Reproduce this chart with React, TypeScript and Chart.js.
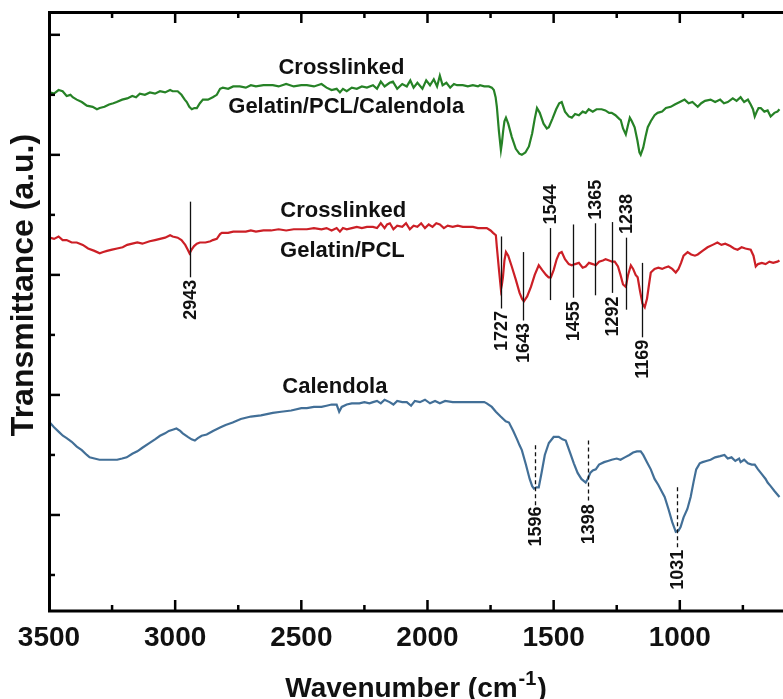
import { useEffect, useRef } from 'react';
import { Chart, registerables } from 'chart.js';

Chart.register(...registerables);

// ---- Data (wavenumber in cm^-1, transmittance in arbitrary offset units) ----
const greenWn = [3497, 3480, 3462, 3446, 3430, 3415, 3406, 3390, 3370, 3350, 3327, 3310, 3299, 3280, 3262, 3245, 3232, 3210, 3190, 3170, 3155, 3140, 3120, 3100, 3080, 3060, 3040, 3020, 3010, 2990, 2975, 2962, 2954, 2944, 2934, 2924, 2914, 2902, 2890, 2870, 2851, 2835, 2822, 2811, 2790, 2770, 2744, 2720, 2700, 2680, 2650, 2613, 2590, 2560, 2530, 2500, 2478, 2450, 2420, 2400, 2380, 2360, 2347, 2335, 2320, 2300, 2280, 2260, 2240, 2216, 2200, 2185, 2170, 2150, 2137, 2120, 2100, 2082, 2068, 2055, 2040, 2020, 2005, 1990, 1975, 1962, 1951, 1940, 1925, 1910, 1895, 1883, 1860, 1840, 1820, 1800, 1792, 1775, 1757, 1745, 1737, 1730, 1725, 1717, 1709, 1705, 1700, 1695, 1689, 1680, 1666, 1650, 1636, 1626, 1612, 1598, 1585, 1575, 1566, 1555, 1540, 1527, 1519, 1505, 1490, 1478, 1468, 1455, 1440, 1428, 1415, 1400, 1385, 1373, 1361, 1345, 1330, 1310, 1295, 1280, 1270, 1255, 1240, 1234, 1225, 1214, 1205, 1198, 1190, 1179, 1168, 1160, 1155, 1145, 1135, 1127, 1115, 1100, 1088, 1070, 1055, 1036, 1020, 1000, 981, 965, 950, 929, 915, 900, 878, 860, 840, 825, 810, 790, 775, 759, 745, 730, 719, 710, 703, 695, 688, 679, 665, 652, 640, 625, 613, 605];
const greenT = [352, 351, 354, 353, 349, 350, 348, 346, 344, 341, 340, 338, 339, 340, 342, 343, 344, 346, 347, 349, 348, 351, 350, 352, 351, 353, 352, 354, 353, 353, 350, 346, 344, 340, 338, 339, 339, 343, 346, 346, 348, 350, 355, 356, 355, 357, 357, 356, 358, 357, 358, 358, 357, 359, 357, 358, 358, 357, 359, 356, 354, 355, 352, 355, 353, 356, 355, 357, 356, 358, 355, 361, 357, 360, 361, 355, 359, 357, 362, 356, 360, 355, 362, 358, 363, 357, 366, 358, 360, 356, 359, 358, 358, 357, 358, 357, 358, 357, 357, 356, 354, 348, 340, 320, 304, 310, 320, 328, 331, 326, 315, 305, 301, 300, 302, 307, 318, 330, 339, 335, 326, 322, 323, 330, 338, 343, 344, 336, 332, 331, 334, 333, 336, 335, 338, 336, 338, 338, 337, 335, 335, 333, 330, 329, 322, 317, 325, 331, 328, 323, 312, 302, 300, 306, 316, 323, 328, 333, 335, 336, 339, 340, 342, 344, 346, 343, 344, 340, 343, 345, 346, 344, 346, 343, 344, 347, 345, 348, 344, 346, 342, 338, 332, 336, 339, 339, 336, 337, 332, 335, 336, 338];

const redWn = [3497, 3480, 3462, 3446, 3430, 3410, 3390, 3366, 3345, 3320, 3299, 3285, 3270, 3250, 3230, 3208, 3190, 3170, 3150, 3130, 3101, 3080, 3060, 3040, 3020, 3010, 2990, 2975, 2960, 2950, 2943, 2935, 2925, 2914, 2902, 2880, 2860, 2851, 2835, 2822, 2815, 2790, 2770, 2744, 2720, 2700, 2680, 2650, 2620, 2590, 2560, 2530, 2500, 2478, 2450, 2420, 2400, 2380, 2360, 2347, 2335, 2320, 2300, 2280, 2260, 2240, 2216, 2200, 2185, 2170, 2160, 2149, 2135, 2120, 2100, 2085, 2070, 2055, 2040, 2025, 2010, 1995, 1980, 1965, 1951, 1935, 1920, 1900, 1880, 1860, 1840, 1820, 1800, 1780, 1765, 1750, 1740, 1729, 1725, 1717, 1709, 1705, 1701, 1695, 1689, 1680, 1666, 1650, 1635, 1625, 1618, 1605, 1590, 1575, 1559, 1545, 1530, 1520, 1511, 1500, 1488, 1478, 1468, 1455, 1440, 1428, 1415, 1400, 1385, 1373, 1360, 1345, 1333, 1320, 1305, 1294, 1280, 1268, 1258, 1245, 1235, 1225, 1214, 1205, 1194, 1185, 1175, 1167, 1158, 1148, 1139, 1130, 1122, 1115, 1100, 1085, 1070, 1060, 1045, 1030, 1016, 1005, 995, 985, 969, 955, 940, 929, 910, 890, 870, 851, 835, 820, 800, 785, 771, 755, 740, 719, 708, 699, 690, 675, 660, 645, 630, 613, 605];
const redT = [231, 230, 232, 229, 229, 227, 227, 225, 222, 220, 218, 219, 220, 221, 222, 223, 225, 226, 227, 226, 228, 229, 230, 231, 233, 232, 231, 229, 225, 221, 218, 221, 224, 226, 227, 227, 228, 229, 230, 234, 235, 235, 236, 236, 236, 237, 236, 237, 237, 238, 237, 238, 238, 238, 239, 238, 239, 237, 239, 236, 239, 238, 239, 240, 239, 240, 240, 239, 243, 239, 242, 243, 238, 241, 240, 243, 238, 241, 240, 243, 239, 242, 240, 243, 242, 239, 241, 240, 241, 240, 240, 240, 239, 239, 239, 237, 235, 233, 223, 205, 188, 192, 198, 212, 219, 216, 207, 196, 185, 180, 178, 182, 190, 200, 208, 204, 200, 198, 198, 204, 213, 218, 219, 213, 209, 208, 209, 210, 206, 207, 210, 209, 208, 211, 212, 213, 212, 211, 211, 207, 200, 192, 190, 200, 208, 205, 200, 198, 187, 176, 173, 180, 192, 202, 205, 206, 205, 206, 207, 205, 202, 205, 210, 216, 219, 217, 216, 217, 220, 223, 225, 227, 225, 226, 224, 222, 221, 223, 222, 221, 216, 207, 209, 210, 209, 211, 210, 211, 212];

const blueWn = [3497, 3480, 3460, 3445, 3430, 3410, 3390, 3370, 3350, 3339, 3320, 3300, 3271, 3250, 3230, 3210, 3192, 3170, 3150, 3130, 3101, 3080, 3060, 3040, 3025, 3010, 2995, 2980, 2970, 2950, 2935, 2922, 2910, 2895, 2875, 2850, 2820, 2800, 2772, 2740, 2700, 2660, 2613, 2580, 2540, 2500, 2478, 2450, 2420, 2400, 2380, 2360, 2350, 2340, 2320, 2300, 2270, 2250, 2230, 2216, 2200, 2185, 2170, 2150, 2135, 2120, 2100, 2082, 2065, 2050, 2030, 2010, 1990, 1970, 1951, 1930, 1900, 1870, 1840, 1810, 1792, 1775, 1765, 1745, 1729, 1710, 1690, 1677, 1660, 1645, 1635, 1626, 1610, 1595, 1585, 1578, 1568, 1559, 1548, 1535, 1519, 1500, 1480, 1465, 1452, 1435, 1420, 1405, 1390, 1373, 1365, 1355, 1345, 1333, 1320, 1300, 1285, 1270, 1250, 1235, 1218, 1200, 1185, 1170, 1155, 1145, 1130, 1115, 1100, 1085, 1070, 1060, 1045, 1030, 1016, 1005, 997, 985, 970, 957, 945, 935, 921, 910, 895, 878, 860, 840, 823, 810, 795, 780, 765, 759, 745, 730, 715, 703, 690, 675, 660, 652, 640, 625, 605];
const blueT = [77, 73, 69, 66, 64, 61, 57, 54, 50, 48, 47, 46, 46, 46, 46, 47, 48, 51, 53, 56, 60, 63, 66, 68, 70, 71, 72, 70, 68, 65, 63, 62, 64, 66, 67, 70, 73, 75, 77, 80, 82, 83, 85, 86, 87, 89, 89, 90, 90, 91, 92, 92, 86, 90, 92, 93, 93, 94, 93, 94, 95, 93, 96, 94, 92, 95, 94, 94, 91, 95, 94, 96, 93, 95, 93, 95, 94, 94, 94, 94, 94, 94, 93, 90, 86, 82, 78, 77, 70, 63, 58, 54, 42, 30, 24, 22, 23, 23, 35, 50, 60, 65, 65, 63, 62, 52, 43, 35, 30, 27, 30, 35, 37, 38, 42, 44, 45, 46, 47, 46, 48, 50, 52, 53, 53, 50, 44, 38, 30, 25, 19, 15, 5, -6, -14, -13, -10, -2, 5, 15, 28, 38, 43, 44, 45, 46, 48, 49, 50, 47, 48, 45, 47, 44, 46, 43, 42, 42, 38, 34, 30, 27, 24, 20, 15];

// ---- Axis ticks ----
const xMajorTicks = [3500, 3000, 2500, 2000, 1500, 1000];
const xMinorTicks = [3250, 2750, 2250, 1750, 1250, 750];
const yMajorTicks = [0, 100, 200, 300, 400];
const yMinorTicks = [-50, 50, 150, 250, 350];

// ---- Annotations (peak markers, in data units) ----
type Peak = { label: string; wn: number; top: number; bottom: number; textAt: number; above: boolean; dashed: boolean };
const peaks: Peak[] = [
  { label: '2943', wn: 2943, top: 261, bottom: 198, textAt: 196, above: false, dashed: false },
  { label: '1727', wn: 1709, top: 232, bottom: 172, textAt: 170, above: false, dashed: false },
  { label: '1643', wn: 1622, top: 219, bottom: 162, textAt: 160, above: false, dashed: false },
  { label: '1544', wn: 1515, top: 239, bottom: 179, textAt: 242, above: true, dashed: false },
  { label: '1455', wn: 1424, top: 242, bottom: 181, textAt: 178, above: false, dashed: false },
  { label: '1365', wn: 1337, top: 243, bottom: 183, textAt: 246, above: true, dashed: false },
  { label: '1292', wn: 1270, top: 244, bottom: 185, textAt: 182, above: false, dashed: false },
  { label: '1238', wn: 1214, top: 231, bottom: 171, textAt: 234, above: true, dashed: false },
  { label: '1169', wn: 1151, top: 210, bottom: 148, textAt: 146, above: false, dashed: false },
  { label: '1596', wn: 1574, top: 58, bottom: 8, textAt: 7, above: false, dashed: true },
  { label: '1398', wn: 1364, top: 62, bottom: 10, textAt: 9, above: false, dashed: true },
  { label: '1031', wn: 1012, top: 23, bottom: -28, textAt: -29, above: false, dashed: true },
];

type SeriesLabel = { text: string; wn: number; y: number };
const seriesLabels: SeriesLabel[] = [
  { text: 'Crosslinked', wn: 2341, y: 367 },
  { text: 'Gelatin/PCL/Calendola', wn: 2322, y: 335 },
  { text: 'Crosslinked', wn: 2334, y: 248 },
  { text: 'Gelatin/PCL', wn: 2337, y: 215 },
  { text: 'Calendola', wn: 2367, y: 102 },
];

const FONT = '"Liberation Sans", Arial, Helvetica, sans-serif';
const INK = '#111111';

const decorPlugin = {
  id: 'decor',
  afterDatasetsDraw(chart: any) {
    const { ctx, scales } = chart;
    const x = scales.x;
    const y = scales.y;
    ctx.save();
    for (const p of peaks) {
      const px = Math.round(x.getPixelForValue(p.wn)) + 0.5;
      ctx.strokeStyle = INK;
      ctx.lineWidth = 1.3;
      ctx.setLineDash(p.dashed ? [4, 3] : []);
      ctx.beginPath();
      ctx.moveTo(px, y.getPixelForValue(p.top));
      ctx.lineTo(px, y.getPixelForValue(p.bottom));
      ctx.stroke();
      ctx.save();
      ctx.translate(px + 1, y.getPixelForValue(p.textAt));
      ctx.rotate(-Math.PI / 2);
      ctx.font = `bold 18px ${FONT}`;
      ctx.fillStyle = INK;
      ctx.textAlign = p.above ? 'left' : 'right';
      ctx.textBaseline = 'middle';
      ctx.fillText(p.label, 0, 0);
      ctx.restore();
    }
    ctx.setLineDash([]);
    ctx.font = `bold 22px ${FONT}`;
    ctx.fillStyle = INK;
    ctx.textAlign = 'center';
    ctx.textBaseline = 'alphabetic';
    for (const s of seriesLabels) {
      ctx.fillText(s.text, x.getPixelForValue(s.wn), y.getPixelForValue(s.y));
    }
    ctx.restore();
  },
  afterDraw(chart: any) {
    const { ctx, chartArea: a, scales } = chart;
    const x = scales.x;
    const y = scales.y;
    ctx.save();
    ctx.strokeStyle = '#000';
    ctx.lineWidth = 3;
    ctx.lineJoin = 'miter';
    ctx.beginPath();
    ctx.moveTo(a.right + 2, a.top + 0.5);
    ctx.lineTo(a.left + 0.5, a.top + 0.5);
    ctx.lineTo(a.left + 0.5, a.bottom);
    ctx.lineTo(a.right + 2, a.bottom);
    ctx.stroke();
    ctx.lineWidth = 2.5;
    const tickX = (v: number, len: number) => {
      const px = x.getPixelForValue(v);
      if (px <= a.left + 2 || px > a.right) return;
      ctx.beginPath();
      ctx.moveTo(px, a.bottom);
      ctx.lineTo(px, a.bottom - len);
      ctx.moveTo(px, a.top);
      ctx.lineTo(px, a.top + len);
      ctx.stroke();
    };
    xMajorTicks.forEach((v) => tickX(v, 11));
    xMinorTicks.forEach((v) => tickX(v, 6));
    const tickY = (v: number, len: number) => {
      const py = y.getPixelForValue(v);
      ctx.beginPath();
      ctx.moveTo(a.left, py);
      ctx.lineTo(a.left + len, py);
      ctx.stroke();
    };
    yMajorTicks.forEach((v) => tickY(v, 11));
    yMinorTicks.forEach((v) => tickY(v, 6));

    ctx.fillStyle = INK;
    ctx.save();
    ctx.translate(24, 285);
    ctx.rotate(-Math.PI / 2);
    ctx.font = `bold 32px ${FONT}`;
    ctx.textAlign = 'center';
    ctx.textBaseline = 'middle';
    ctx.fillText('Transmittance (a.u.)', 0, 0);
    ctx.restore();

    const main1 = 'Wavenumber (cm';
    const sup = '-1';
    const main2 = ')';
    ctx.textBaseline = 'alphabetic';
    ctx.textAlign = 'left';
    ctx.font = `bold 28px ${FONT}`;
    const w1 = ctx.measureText(main1).width;
    const w3 = ctx.measureText(main2).width;
    ctx.font = `bold 20px ${FONT}`;
    const w2 = ctx.measureText(sup).width;
    const total = w1 + w2 + w3 + 2;
    const cx = (a.left + a.right) / 2;
    let sx = cx - total / 2;
    const base = 697;
    ctx.font = `bold 28px ${FONT}`;
    ctx.fillText(main1, sx, base);
    sx += w1 + 1;
    ctx.font = `bold 20px ${FONT}`;
    ctx.fillText(sup, sx, base - 12);
    sx += w2 + 1;
    ctx.font = `bold 28px ${FONT}`;
    ctx.fillText(main2, sx, base);
    ctx.restore();
  },
};

const toPoints = (xs: number[], ys: number[]) => xs.map((v, i) => ({ x: v, y: ys[i] }));

export default function App() {
  const ref = useRef<HTMLCanvasElement | null>(null);
  useEffect(() => {
    if (!ref.current) return;
    const chart = new Chart(ref.current, {
      type: 'line',
      data: {
        datasets: [
          { label: 'Crosslinked Gelatin/PCL/Calendola', data: toPoints(greenWn, greenT), borderColor: '#268226', borderWidth: 2.2, pointRadius: 0, tension: 0 },
          { label: 'Crosslinked Gelatin/PCL', data: toPoints(redWn, redT), borderColor: '#cc1f26', borderWidth: 2.2, pointRadius: 0, tension: 0 },
          { label: 'Calendola', data: toPoints(blueWn, blueT), borderColor: '#426f97', borderWidth: 2.2, pointRadius: 0, tension: 0 },
        ],
      },
      options: {
        animation: false,
        responsive: true,
        maintainAspectRatio: false,
        parsing: false as any,
        layout: { padding: { left: 49, top: 12, right: 0, bottom: 0 } },
        plugins: { legend: { display: false }, tooltip: { enabled: false } },
        scales: {
          x: {
            type: 'linear',
            reverse: true,
            min: 591,
            max: 3500,
            grid: { display: false, drawTicks: false },
            border: { display: false },
            ticks: {
              color: INK,
              font: { family: FONT, size: 28, weight: 'bold' },
              padding: 10,
              maxRotation: 0,
              autoSkip: false,
              callback: (v: any) => String(v),
            },
            afterBuildTicks: (scale: any) => {
              scale.ticks = xMajorTicks.map((v) => ({ value: v }));
            },
            afterFit: (scale: any) => {
              scale.height = 88;
            },
          },
          y: {
            type: 'linear',
            display: false,
            min: -80,
            max: 419,
          },
        },
      },
      plugins: [decorPlugin],
    } as any);
    return () => chart.destroy();
  }, []);
  return (
    <div style={{ position: 'fixed', left: 0, top: 0, width: 783, height: 699, background: '#fff' }}>
      <canvas ref={ref} />
    </div>
  );
}
